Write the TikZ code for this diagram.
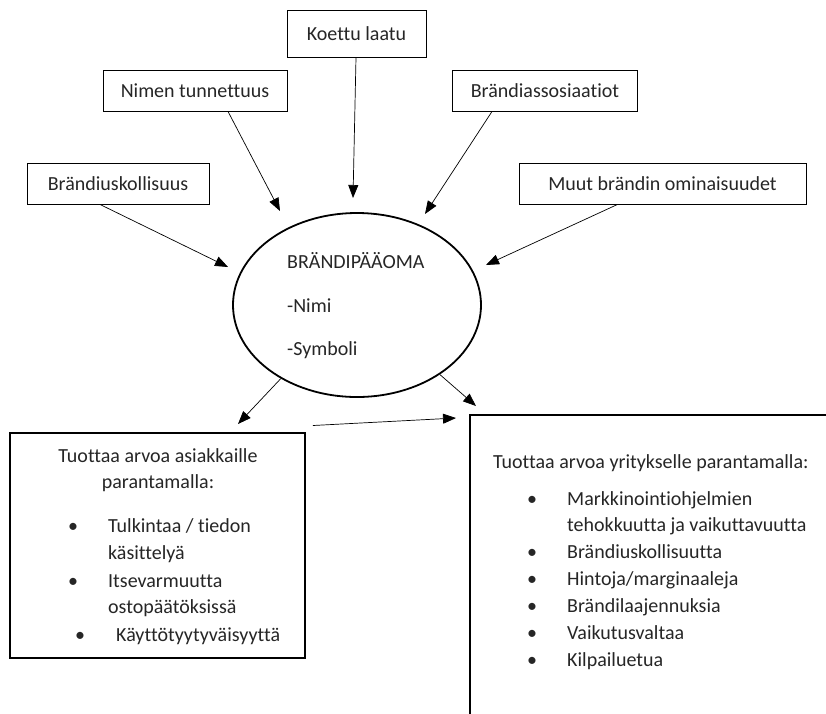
\documentclass[tikz,border=0pt]{standalone}
\usepackage{fontspec}
\setmainfont{Carlito}[Ligatures=NoCommon]
\usetikzlibrary{arrows.meta,shapes.geometric}
\begin{document}
\begin{tikzpicture}[x=1pt,y=-1pt,
  every node/.style={font=\fontsize{20}{27}\selectfont, inner sep=0pt, text=black!85},
  srcbox/.style={draw, line width=0.9pt, rectangle},
  bigbox/.style={draw, line width=1.8pt, rectangle},
  arr/.style={-{Triangle[length=13pt,width=10pt]}, line width=0.7pt},
  txt/.style={anchor=base west},
  bul/.style={anchor=base},
]
\fill[white] (0,0) rectangle (826,713);
\clip (0,0) rectangle (826,713);

% source factors
\node[srcbox, minimum width=139pt, minimum height=47pt] (koettu) at (356.5,33.5) {Koettu laatu};
\node[srcbox, minimum width=184pt, minimum height=41pt] (nimen) at (195,90.5) {Nimen tunnettuus};
\node[srcbox, minimum width=185pt, minimum height=41pt] (assos) at (545,90.5) {Brändiassosiaatiot};
\node[srcbox, minimum width=182pt, minimum height=41pt] (uskoll) at (118,183.5) {Brändiuskollisuus};
\node[srcbox, minimum width=287pt, minimum height=41pt] (muut) at (662.5,183.5) {Muut brändin ominaisuudet};

% brand equity
\node[ellipse, draw, line width=1.8pt, minimum width=248pt, minimum height=184pt] (equity) at (357,305) {};
\node[txt] at (287,268) {BRÄNDIPÄÄOMA};
\node[txt] at (287,312) {-Nimi};
\node[txt] at (287,355) {-Symboli};

% value for customers
\node[bigbox, minimum width=295pt, minimum height=225pt] (asiakas) at (157.5,545.5) {};
\node[bul] at (158,462) {Tuottaa arvoa asiakkaille};
\node[bul] at (158,488) {parantamalla:};
\node[bul] at (73,532) {\textbullet};
\node[txt] at (108,532) {Tulkintaa / tiedon};
\node[txt] at (108,559) {käsittelyä};
\node[bul] at (73,587) {\textbullet};
\node[txt] at (108,587) {Itsevarmuutta};
\node[txt] at (108,613) {ostopäätöksissä};
\node[bul] at (80,641) {\textbullet};
\node[txt] at (116,641) {Käyttötyytyväisyyttä};

% value for the company
\node[bigbox, minimum width=430pt, minimum height=385pt] (yritys) at (685,607.5) {};
\node[txt] at (493,468) {Tuottaa arvoa yritykselle parantamalla:};
\node[bul] at (532,505) {\textbullet};
\node[txt] at (567,505) {Markkinointiohjelmien};
\node[txt] at (567,531) {tehokkuutta ja vaikuttavuutta};
\node[bul] at (532,558) {\textbullet};
\node[txt] at (567,558) {Brändiuskollisuutta};
\node[bul] at (532,585) {\textbullet};
\node[txt] at (567,585) {Hintoja/marginaaleja};
\node[bul] at (532,612) {\textbullet};
\node[txt] at (567,612) {Brändilaajennuksia};
\node[bul] at (532,639) {\textbullet};
\node[txt] at (567,639) {Vaikutusvaltaa};
\node[bul] at (532,666) {\textbullet};
\node[txt] at (567,666) {Kilpailuetua};

% arrow tips
\coordinate (tK) at (353,198);
\coordinate (tN) at (280,211);
\coordinate (tA) at (425,214);
\coordinate (tU) at (228,267);
\coordinate (tM) at (486,265);
\coordinate (tL) at (238,424);
\coordinate (tR) at (476,406);
\coordinate (tY) at (456,418);

% connectors
\draw[arr] (koettu.south) ++(-0.5,0) -- (tK);
\draw[arr] ([xshift=33pt]nimen.south) -- (tN);
\draw[arr] ([xshift=-53pt]assos.south) -- (tA);
\draw[arr] ([xshift=-18pt]uskoll.south) -- (tU);
\draw[arr] ([xshift=-45pt]muut.south) -- (tM);
\draw[arr] (equity.224) -- (tL);
\draw[arr] (equity.-40) -- (tR);
\draw[arr] ([xshift=7pt,yshift=120pt]asiakas.east) -- (tY);
\end{tikzpicture}
\end{document}
